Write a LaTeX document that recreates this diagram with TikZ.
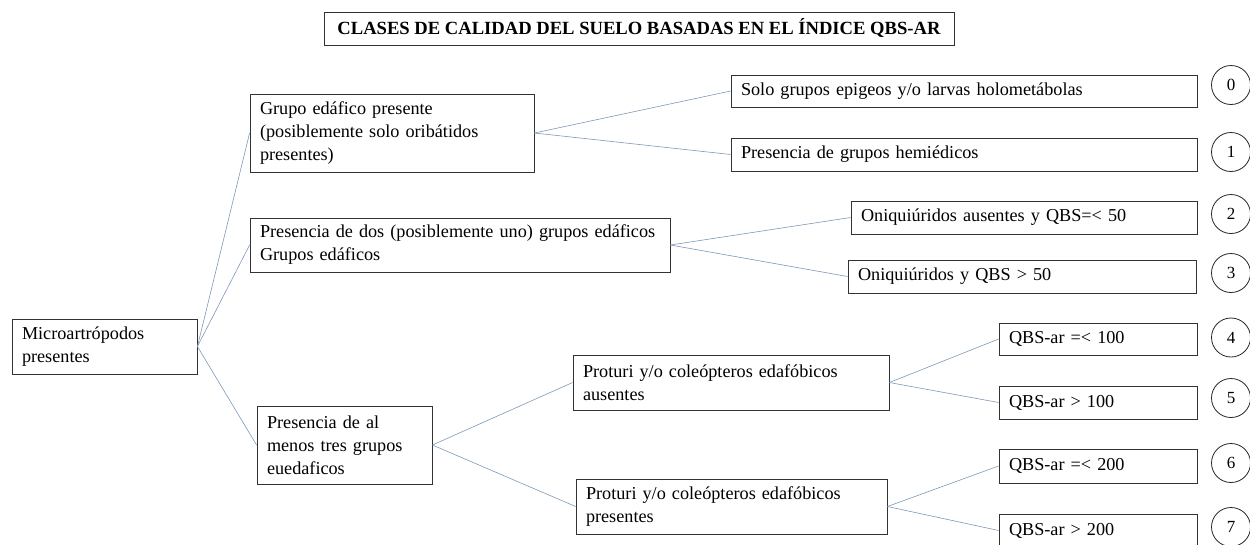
\documentclass[tikz,border=0pt]{standalone}
\usepackage{fontspec}
\setmainfont{Liberation Serif}
\definecolor{linkblue}{RGB}{125,152,185}
\begin{document}
\begin{tikzpicture}[x=1pt,y=-1pt,
    box/.style={draw=black!80,line width=0.8pt,inner xsep=10pt,inner ysep=2pt,align=left,font=\fontsize{18.2}{23}\selectfont},
    num/.style={draw=black!85,line width=0.8pt,circle,minimum size=39pt,inner sep=0pt,font=\fontsize{17}{18}\selectfont},
    link/.style={linkblue,line width=0.6pt}]
  \useasboundingbox (0,0) rectangle (1250,544);

  \node [draw=black!80,line width=0.8pt,minimum width=630pt,minimum height=33pt,font=\fontsize{18.6}{20}\selectfont\bfseries] (title) at (639,28.5) {CLASES DE CALIDAD DEL SUELO BASADAS EN EL ÍNDICE QBS-AR};

  \node [box,text width=165pt,minimum height=55pt] (micro) at (104.5,346.5) {Microartrópodos\\presentes};

  \node [box,text width=264pt,minimum height=78pt] (grupo) at (392,133) {Grupo edáfico presente\\(posiblemente solo oribátidos\\presentes)};
  \node [box,text width=400pt,minimum height=54pt] (dos) at (460,245) {Presencia de dos (posiblemente uno) grupos edáficos\\Grupos edáficos};
  \node [box,text width=155pt,minimum height=78pt] (tres) at (344.5,445) {Presencia de al\\menos tres grupos\\euedaficos};

  \node [box,text width=296pt,minimum height=55pt] (ausentes) at (731,382.5) {Proturi y/o coleópteros edafóbicos\\ausentes};
  \node [box,text width=291pt,minimum height=55pt] (presentes) at (731.5,506.5) {Proturi y/o coleópteros edafóbicos\\presentes};

  \node [box,text width=446pt,minimum height=32pt] (solo) at (964,91) {Solo grupos epigeos y/o larvas holometábolas};
  \node [box,text width=446pt,minimum height=33pt] (hemi) at (964,154.5) {Presencia de grupos hemiédicos};
  \node [box,text width=326pt,minimum height=33pt] (oniqa) at (1024,217.5) {Oniquiúridos ausentes y QBS=< 50};
  \node [box,text width=328pt,minimum height=33pt] (oniqb) at (1022,276.5) {Oniquiúridos y QBS > 50};
  \node [box,text width=178pt,minimum height=32pt] (qa) at (1098,339) {QBS-ar =< 100};
  \node [box,text width=178pt,minimum height=33pt] (qb) at (1098,402.5) {QBS-ar > 100};
  \node [box,text width=178pt,minimum height=34pt] (qc) at (1098,466) {QBS-ar =< 200};
  \node [box,text width=178pt,minimum height=33pt] (qd) at (1098,530.5) {QBS-ar > 200};

  \node [num] (c0) at (1231,85) {0};
  \node [num] (c1) at (1231,152) {1};
  \node [num] (c2) at (1231,214) {2};
  \node [num] (c3) at (1231,273) {3};
  \node [num] (c4) at (1231,337.5) {4};
  \node [num] (c5) at (1231,398) {5};
  \node [num] (c6) at (1231,463) {6};
  \node [num] (c7) at (1231,527) {7};

  \draw [link] (micro.east) -- (grupo.west);
  \draw [link] (micro.east) -- (dos.west);
  \draw [link] (micro.east) -- (tres.west);
  \draw [link] (grupo.east) -- (solo.west);
  \draw [link] (grupo.east) -- (hemi.west);
  \draw [link] (dos.east) -- (oniqa.west);
  \draw [link] (dos.east) -- (oniqb.west);
  \draw [link] (tres.east) -- (ausentes.west);
  \draw [link] (tres.east) -- (presentes.west);
  \draw [link] (ausentes.east) -- (qa.west);
  \draw [link] (ausentes.east) -- (qb.west);
  \draw [link] (presentes.east) -- (qc.west);
  \draw [link] (presentes.east) -- (qd.west);
\end{tikzpicture}
\end{document}
